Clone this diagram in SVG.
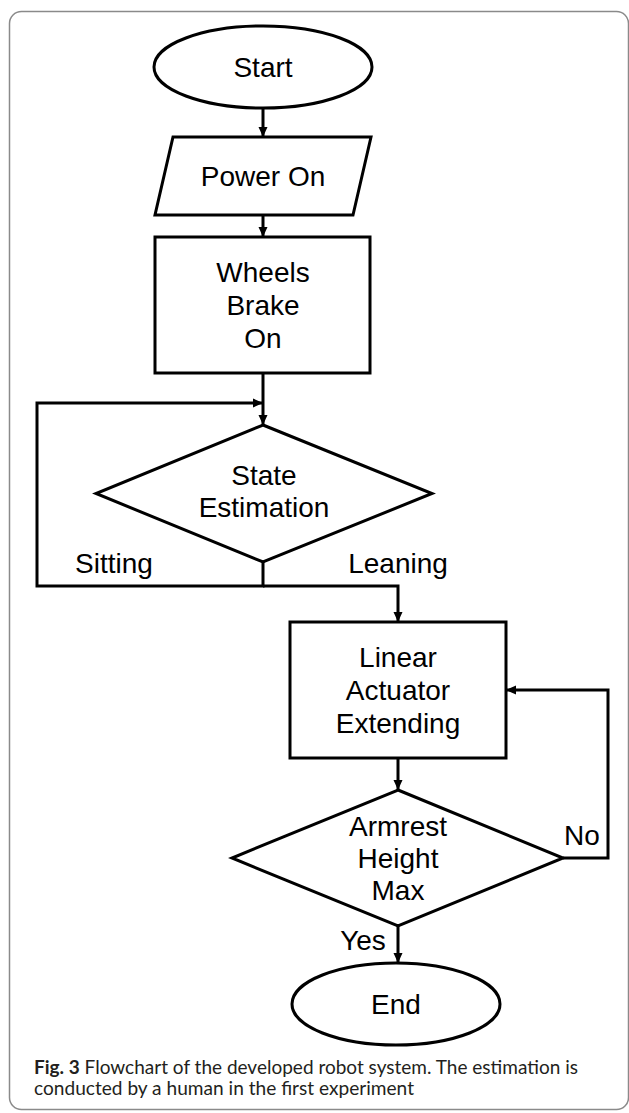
<svg xmlns="http://www.w3.org/2000/svg" width="629" height="1113" viewBox="0 0 629 1113">
  <style>
    .shape { fill: #ffffff; stroke: #000000; stroke-width: 3; }
    .conn { fill: none; stroke: #000000; stroke-width: 3; }
    .lbl { font-family: "Liberation Sans", Arial, sans-serif; font-size: 28px; fill: #000000; text-anchor: middle; }
    .cap { font-family: Lato, "Open Sans", "Liberation Sans", sans-serif; font-size: 19px; fill: #231f20; }
  </style>
  <defs>
    <marker id="arrow" markerUnits="userSpaceOnUse" markerWidth="10" markerHeight="10" refX="10" refY="5" orient="auto">
      <path d="M0,0.5 L10,5 L0,9.5 z" fill="#000000"/>
    </marker>
  </defs>
  <rect x="9.5" y="11.5" width="619" height="1098" rx="12" ry="12" fill="#ffffff" stroke="#8a8a8a" stroke-width="1.5"/>

  <g id="connectors">
    <line class="conn" x1="263" y1="108" x2="263" y2="137" marker-end="url(#arrow)"/>
    <line class="conn" x1="263" y1="215" x2="263" y2="237" marker-end="url(#arrow)"/>
    <line class="conn" x1="263" y1="373" x2="263" y2="425" marker-end="url(#arrow)"/>
    <polyline class="conn" points="263,562 263,586 37,586 37,403 263,403" marker-end="url(#arrow)"/>
    <polyline class="conn" points="263,586 398,586 398,622" marker-end="url(#arrow)"/>
    <line class="conn" x1="398" y1="758" x2="398" y2="790" marker-end="url(#arrow)"/>
    <polyline class="conn" points="563,858 608,858 608,690 506,690" marker-end="url(#arrow)"/>
    <line class="conn" x1="398" y1="926" x2="398" y2="963" marker-end="url(#arrow)"/>
  </g>

  <g id="start">
    <ellipse class="shape" cx="263" cy="67" rx="109" ry="41"/>
    <text class="lbl" x="263" y="77">Start</text>
  </g>
  <g id="power-on">
    <polygon class="shape" points="173,137 371,137 353,215 155,215"/>
    <text class="lbl" x="263" y="186">Power On</text>
  </g>
  <g id="wheels-brake">
    <rect class="shape" x="155" y="237" width="215" height="136"/>
    <text class="lbl" x="263" y="282">Wheels</text>
    <text class="lbl" x="263" y="315">Brake</text>
    <text class="lbl" x="263" y="348">On</text>
  </g>
  <g id="state-estimation">
    <polygon class="shape" points="263,425 432,493.5 263,562 96,493.5"/>
    <text class="lbl" x="264" y="485">State</text>
    <text class="lbl" x="264" y="517">Estimation</text>
  </g>
  <g id="labels-state">
    <text class="lbl" x="114" y="573">Sitting</text>
    <text class="lbl" x="398" y="573">Leaning</text>
  </g>
  <g id="linear-actuator">
    <rect class="shape" x="290" y="622" width="216" height="136"/>
    <text class="lbl" x="398" y="667">Linear</text>
    <text class="lbl" x="398" y="700">Actuator</text>
    <text class="lbl" x="398" y="733">Extending</text>
  </g>
  <g id="armrest-max">
    <polygon class="shape" points="398,790 563,858 398,926 232,858"/>
    <text class="lbl" x="398" y="836">Armrest</text>
    <text class="lbl" x="398" y="868">Height</text>
    <text class="lbl" x="398" y="900">Max</text>
  </g>
  <g id="labels-armrest">
    <text class="lbl" x="582" y="845">No</text>
    <text class="lbl" x="363" y="950">Yes</text>
  </g>
  <g id="end">
    <ellipse class="shape" cx="396" cy="1004" rx="104" ry="41"/>
    <text class="lbl" x="396" y="1014">End</text>
  </g>

  <g id="caption">
    <text class="cap" x="34" y="1074" textLength="544" lengthAdjust="spacingAndGlyphs"><tspan font-weight="bold">Fig. 3</tspan>  Flowchart of the developed robot system. The estimation is</text>
    <text class="cap" x="34" y="1095" textLength="380" lengthAdjust="spacingAndGlyphs">conducted by a human in the first experiment</text>
  </g>
</svg>
